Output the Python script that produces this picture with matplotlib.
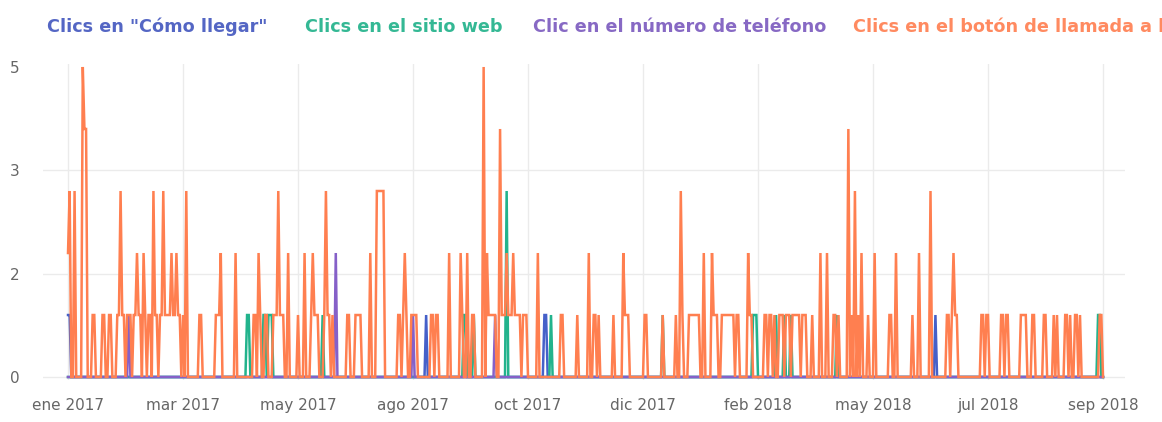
import numpy as np
import matplotlib
matplotlib.use("Agg")
import matplotlib.pyplot as plt
import matplotlib.dates as mdates
from matplotlib.ticker import FixedLocator, FuncFormatter

# ---------------- data ----------------
start_date = "2017-01-03"
n_days = 631
month_names = ["ene", "feb", "mar", "abr", "may", "jun",
               "jul", "ago", "sep", "oct", "nov", "dic"]
series_labels = ['Clics en "Cómo llegar"', "Clics en el sitio web",
                 "Clic en el número de teléfono", "Clics en el botón de llamada a la acción"]
series_colors = ["#4560c9", "#22b38c", "#8560c8", "#ff7f50"]
label_colors = ["#5466c4", "#34b894", "#8769c4", "#ff8a60"]

# non-zero days (offset from start) and values per series
blue_days = [0, 1, 218, 290, 291, 528]
blue_vals = [1, 1, 1, 1, 1, 1]

teal_days = [109, 110, 119, 120, 122, 123, 124, 155, 241, 242, 247, 267, 294, 362,
             417, 418, 419, 431, 436, 440, 468, 627, 628]
teal_vals = [1, 1, 1, 1, 1, 1, 1, 1, 1, 1, 1, 3, 1, 1,
             1, 1, 1, 1, 1, 1, 1, 1, 1]

purple_days = [37, 163, 210, 260]
purple_vals = [1, 2, 1, 1]

orange_days = [0, 1, 4, 9, 10, 11, 15, 16, 21, 22, 25, 26,
               30, 31, 32, 33, 34, 36, 37, 38,
               40, 41, 42, 43, 44, 46, 47, 49, 50, 52, 53, 54, 56, 57, 58,
               59, 60, 61, 62, 63, 64, 65, 66, 67, 68, 70, 72,
               80, 81, 90, 91, 92, 93, 102,
               113, 114, 116, 117, 120, 121, 125, 126, 127, 128, 129, 130, 131,
               134, 140, 144, 148, 149, 150, 151, 152, 156, 157, 158, 159, 161,
               170, 171, 175, 176, 177, 178, 184, 188, 189, 190, 191, 192,
               201, 202, 204, 205, 206, 209, 210, 211, 212,
               221, 222, 224, 225, 232, 239, 240, 243, 246, 247,
               253, 255, 256, 257, 258, 259, 260, 263, 264, 265, 266, 267, 268, 269,
               270, 271, 272, 273, 274, 275, 277, 278, 279,
               286, 300, 301, 310, 317, 320, 321, 323, 332, 338, 339, 340, 341,
               351, 352, 362, 370, 373, 374,
               378, 379, 380, 381, 382, 383, 384, 387, 392, 393, 394, 395,
               398, 399, 400, 401, 402, 403, 404, 405, 407, 408, 414, 415, 416,
               424, 425, 427, 428, 430, 433, 434, 435, 437, 438, 439, 441, 442, 443,
               444, 445, 447, 448, 449, 453,
               458, 462, 466, 467, 469, 475, 477, 479, 481, 483, 487, 491, 500, 501, 504,
               514, 518, 525, 535, 536, 538, 539, 540, 541, 556, 557, 559, 560,
               568, 569, 571, 572,
               580, 581, 582, 583, 587, 588, 594, 595, 600, 602, 607, 608, 610,
               613, 614, 616, 628, 629]
orange_vals = [2, 3, 3, 5, 4, 4, 1, 1, 1, 1, 1, 1,
               1, 1, 3, 1, 1, 1, 1, 1,
               1, 1, 2, 1, 1, 2, 1, 1, 1, 3, 1, 1, 1, 1, 3,
               1, 1, 1, 1, 2, 1, 1, 2, 1, 1, 1, 3,
               1, 1, 1, 1, 1, 2, 2,
               1, 1, 2, 1, 1, 1, 1, 1, 1, 3, 1, 1, 1,
               2, 1, 2, 1, 2, 1, 1, 1, 1, 3, 1, 1, 1,
               1, 1, 1, 1, 1, 1, 2, 3, 3, 3, 3, 3,
               1, 1, 1, 2, 1, 1, 1, 1, 1,
               1, 1, 1, 1, 2, 2, 1, 2, 1, 1,
               5, 2, 1, 1, 1, 1, 1, 4, 1, 1, 1, 2, 1, 1,
               1, 2, 1, 1, 1, 1, 1, 1, 1,
               2, 1, 1, 1, 2, 1, 1, 1, 1, 2, 1, 1, 1,
               1, 1, 1, 1, 3, 1,
               1, 1, 1, 1, 1, 1, 1, 2, 2, 1, 1, 1,
               1, 1, 1, 1, 1, 1, 1, 1, 1, 1, 2, 1, 1,
               1, 1, 1, 1, 1, 1, 1, 1, 1, 1, 1, 1, 1, 1,
               1, 1, 1, 1, 1, 1,
               2, 2, 1, 1, 1, 4, 1, 3, 1, 2, 1, 2, 1, 1, 2,
               1, 2, 3, 1, 1, 1, 2, 1, 1, 1, 1, 1, 1,
               1, 1, 1, 1,
               1, 1, 1, 1, 1, 1, 1, 1, 1, 1, 1, 1, 1,
               1, 1, 1, 1, 1]

# ---------------- build ----------------
t0 = np.datetime64(start_date)
dates = t0 + np.arange(n_days)


def daily(days, vals):
    arr = np.zeros(n_days)
    arr[np.array(days)] = vals
    return arr


series = [daily(blue_days, blue_vals), daily(teal_days, teal_vals),
          daily(purple_days, purple_vals), daily(orange_days, orange_vals)]

plt.rcParams["font.family"] = ["DejaVu Sans"]
W, H = 1162, 422
fig = plt.figure(figsize=(W / 100, H / 100), dpi=100)
ax_l, ax_r, ax_t, ax_b = 43, 1125, 64, 380
ax = fig.add_axes([ax_l / W, 1 - ax_b / H, (ax_r - ax_l) / W, (ax_b - ax_t) / H])

for s, c in zip(series, series_colors):
    ax.plot(dates, s, color=c, lw=1.8, solid_joinstyle="miter", zorder=3)

d_first = mdates.date2num(dates[0])
d_last = mdates.date2num(dates[-1])
ppd = (1103 - 68) / (d_last - d_first)
ax.set_xlim(d_first - (68 - ax_l) / ppd, d_last + (ax_r - 1103) / ppd)
ax.set_ylim(-0.048, 5.048)

ax.xaxis.set_major_locator(FixedLocator(np.linspace(d_first, d_last, 10)))


def fmt_month(x, pos):
    d = mdates.num2date(x)
    return f"{month_names[d.month - 1]} {d.year}"


ax.xaxis.set_major_formatter(FuncFormatter(fmt_month))
ax.yaxis.set_major_locator(FixedLocator(np.linspace(0, 5, 4)))
ax.yaxis.set_major_formatter(FuncFormatter(lambda v, p: f"{v:.0f}"))

ax.grid(True, color="#ebebeb", lw=1, zorder=0)
for sp in ax.spines.values():
    sp.set_visible(False)
ax.tick_params(axis="both", length=0, labelsize=11, labelcolor="#666666")
ax.tick_params(axis="y", pad=17)
ax.tick_params(axis="x", pad=13)
fig.canvas.draw()
ax.yaxis.get_gridlines()[-1].set_visible(False)

legend_x = [47, 305, 533, 853]
for lx, lab, c in zip(legend_x, series_labels, label_colors):
    fig.text(lx / W, 1 - 32 / H, lab, color=c, fontsize=12.7, fontweight="bold",
             va="baseline", ha="left")

fig.savefig("out.png", dpi=100)
